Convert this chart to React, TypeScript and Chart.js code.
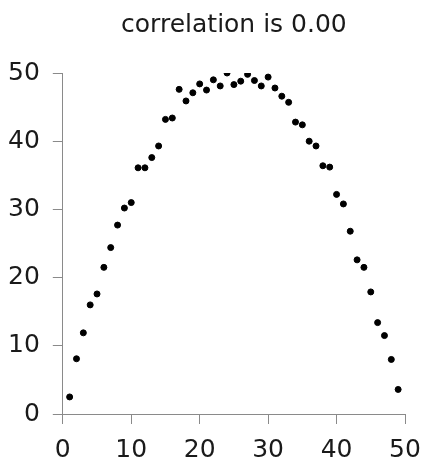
import React, { useEffect, useRef } from "react";
import { Chart, registerables } from "chart.js";

Chart.register(...registerables);

const titleText = "correlation is 0.00";
const xValues = [1, 2, 3, 4, 5, 6, 7, 8, 9, 10, 11, 12, 13, 14, 15, 16, 17, 18, 19, 20, 21, 22, 23, 24, 25, 26, 27, 28, 29, 30, 31, 32, 33, 34, 35, 36, 37, 38, 39, 40, 41, 42, 43, 44, 45, 46, 47, 48, 49];
const yValues = [2.5, 8.1, 11.9, 16.0, 17.6, 21.5, 24.4, 27.7, 30.2, 31.0, 36.1, 36.1, 37.6, 39.3, 43.2, 43.4, 47.6, 45.9, 47.1, 48.4, 47.5, 49.0, 48.1, 50.0, 48.3, 48.8, 49.8, 48.9, 48.1, 49.4, 47.8, 46.6, 45.7, 42.8, 42.4, 40.0, 39.3, 36.4, 36.2, 32.2, 30.8, 26.8, 22.6, 21.5, 17.9, 13.4, 11.5, 8.0, 3.6];
const axisMin = 0;
const axisMax = 50;
const tickStep = 10;

export default function App() {
  const ref = useRef<HTMLCanvasElement | null>(null);
  useEffect(() => {
    if (!ref.current) return;
    const font = { family: "DejaVu Sans", size: 25, weight: "normal" as const };
    const gridOpts = { display: true, drawOnChartArea: false, drawTicks: true, tickLength: 10, color: "#8a8a8a", lineWidth: 1 };
    const borderOpts = { display: true, color: "#8a8a8a", width: 1 };
    const chart = new Chart(ref.current, {
      type: "scatter",
      data: {
        datasets: [
          {
            data: xValues.map((x, i) => ({ x, y: yValues[i] })),
            backgroundColor: "#000",
            borderColor: "#000",
            pointRadius: 3,
            pointStyle: "circle",
          },
        ],
      },
      options: {
        animation: false,
        responsive: false,
        layout: { padding: { left: -5, right: 12, top: 0, bottom: -19 } },
        plugins: {
          legend: { display: false },
          tooltip: { enabled: false },
          title: {
            display: true,
            text: titleText,
            fullSize: false,
            color: "#1a1a1a",
            font: { family: "DejaVu Sans", size: 25, weight: "normal" },
            padding: { top: 10, bottom: 33 },
          },
        },
        scales: {
          x: {
            type: "linear",
            position: "bottom",
            min: axisMin,
            max: axisMax,
            ticks: { stepSize: tickStep, font, color: "#1a1a1a", padding: 11 },
            grid: gridOpts,
            border: borderOpts,
            afterFit: (scale: any) => {
              scale.paddingRight = 16;
              scale.paddingLeft = 8;
            },
          },
          y: {
            type: "linear",
            position: "left",
            min: axisMin,
            max: axisMax,
            ticks: { stepSize: tickStep, font, color: "#1a1a1a", padding: 13 },
            grid: gridOpts,
            border: borderOpts,
          },
        },
      },
    });
    return () => chart.destroy();
  }, []);
  return (
    <div style={{ position: "fixed", left: 0, top: 0, width: 421, height: 457, background: "#fff" }}>
      <canvas ref={ref} width={421} height={457} style={{ display: "block", width: 421, height: 457 }} />
    </div>
  );
}
